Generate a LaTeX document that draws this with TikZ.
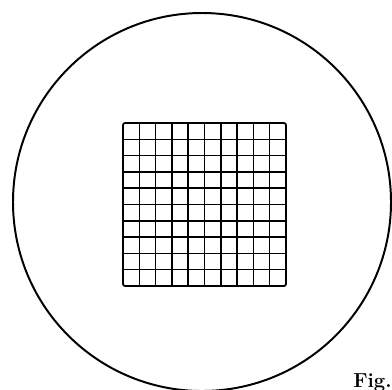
\documentclass[tikz,border=0pt]{standalone}
\usepackage{tikz}
\usetikzlibrary{positioning}
\tikzset{
  reticleCircle/.style={draw, line width=1.4pt},
  reticleFrame/.style={draw, line width=1.3pt, rounded corners=1.5pt},
  reticleLine/.style={draw, line width=1.05pt},
  figLabel/.style={anchor=base west, inner sep=0pt, font=\Large\bfseries}
}
\begin{document}
\begin{tikzpicture}[x=0.025cm, y=-0.025cm]
  \useasboundingbox (0,0) rectangle (392,389);
  \clip (0,0) rectangle (392,389);
  % field of view
  \draw[reticleCircle] (202,202) circle (189);
  % counting grid, 10 x 10
  \draw[reticleFrame] (123,123) rectangle (286,286);
  \foreach \gp in {139.3,155.6,171.9,188.2,204.5,220.8,237.1,253.4,269.7} {
    \draw[reticleLine] (\gp,123) -- (\gp,286);
    \draw[reticleLine] (123,\gp) -- (286,\gp);
  }
  \node[figLabel] (fig) at (353,387) {Fig.};
\end{tikzpicture}
\end{document}
